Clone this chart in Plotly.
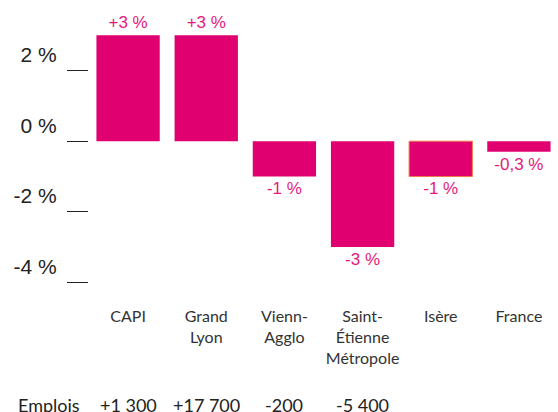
import plotly.graph_objects as go

categories = ["CAPI", "Grand<br>Lyon", "Vienn-<br>Agglo", "Saint-<br>Étienne<br>Métropole", "Isère", "France"]
values = [3.0, 3.0, -1.0, -3.0, -1.0, -0.3]
value_labels = ["+3 %", "+3 %", "-1 %", "-3 %", "-1 %", "-0,3 %"]
emplois = ["+1 300", "+17 700", "-200", "-5 400", "", ""]
tick_vals = [2, 0, -2, -4]
tick_text = ["2 %", "0 %", "-2 %", "-4 %"]

BAR = "#e0006f"
TXT = "#e5197b"

line_colors = [BAR, BAR, BAR, BAR, "#f07a4a", BAR]
line_widths = [0, 0, 0, 0, 1, 0]

fig = go.Figure()
fig.add_trace(go.Bar(
    x=categories, y=values,
    marker=dict(color=BAR, line=dict(color=line_colors, width=line_widths)),
    text=value_labels, textposition="outside",
    textfont=dict(color=TXT, size=17, family="Liberation Sans"),
    cliponaxis=False, hoverinfo="skip",
))

for cat, e in zip(categories, emplois):
    if e:
        fig.add_annotation(x=cat, xref="x", y=-0.35, yref="paper", text=e,
                           showarrow=False, xanchor="center", yanchor="middle",
                           font=dict(size=18, color="#222", family="Lato"))
fig.add_annotation(x=-0.156, xref="paper", y=-0.35, yref="paper", text="Emplois",
                   showarrow=False, xanchor="left", yanchor="middle",
                   font=dict(size=18, color="#222", family="Lato"))

fig.update_layout(
    width=558, height=412,
    margin=dict(l=89, r=0, t=0, b=112, autoexpand=False),
    plot_bgcolor="white", paper_bgcolor="white",
    bargap=0.19, showlegend=False,
)
fig.update_xaxes(showgrid=False, zeroline=False, showline=False, ticks="",
                 tickfont=dict(size=16, color="#333", family="Lato"),
                 ticklabelstandoff=5)
fig.update_yaxes(range=[-4.5, 4], tickvals=tick_vals, ticktext=tick_text,
                 showgrid=False, zeroline=False, showline=False,
                 ticks="outside", ticklen=21, tickcolor="#222", tickwidth=1,
                 tickfont=dict(size=21, color="#222", family="Liberation Sans"),
                 ticklabelshift=-16, ticklabelstandoff=6)

fig.write_html("out.html", config={"displayModeBar": False},
               post_script="document.body.style.margin='0';")
